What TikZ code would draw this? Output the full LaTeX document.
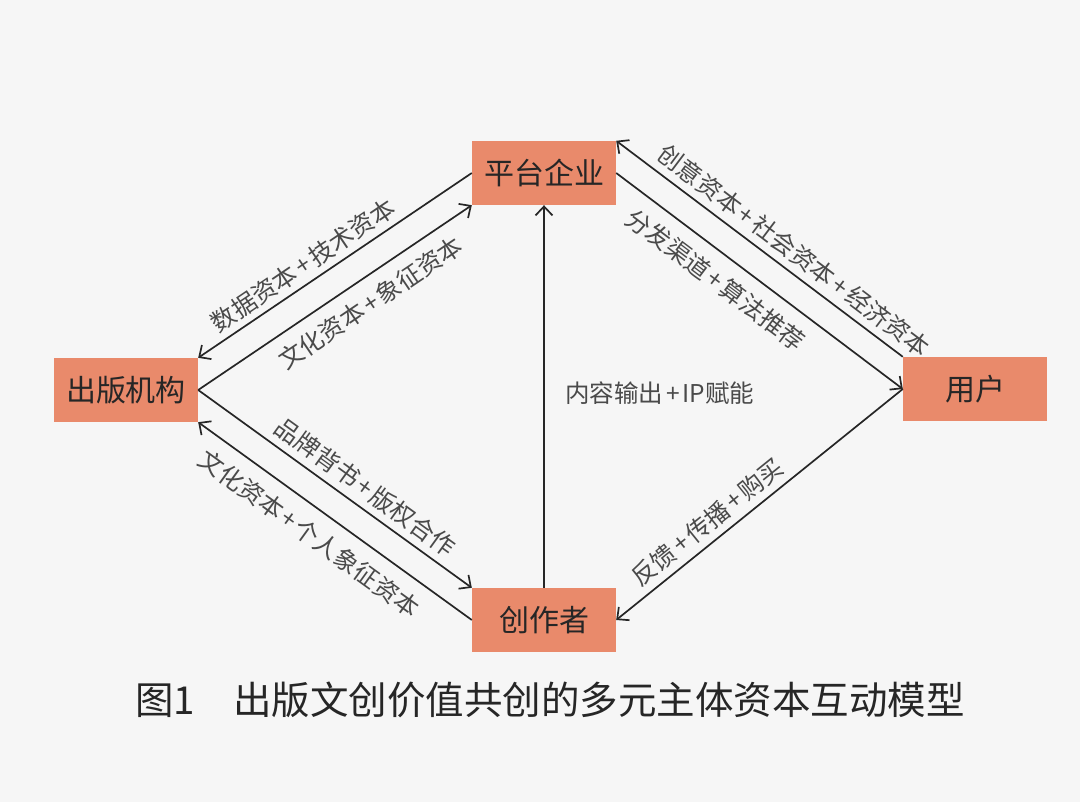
\documentclass[tikz,border=0pt]{standalone}
\usepackage{fontspec}
\setmainfont{Noto Sans CJK SC}
\usepackage{xcolor}
\usepackage{tikz}
\usetikzlibrary{arrows.meta, positioning, calc}
\definecolor{boxfill}{HTML}{E98A6B}
\definecolor{labgray}{HTML}{4A4A4A}
\definecolor{bggray}{HTML}{F6F6F6}
\newcommand{\pls}{\makebox[0.8em]{+}}
\tikzset{
    actor/.style={rectangle, fill=boxfill, minimum width=144pt, minimum height=64pt,
        inner sep=0pt, text=black!85, font=\fontsize{30}{32}\selectfont},
    flow/.style={line width=1.7pt, black!85, -{Straight Barb[length=9pt,width=17pt,line width=1.7pt]}},
    lab/.style={text=labgray, inner sep=0pt, font=\fontsize{24.5}{26}\selectfont}
}

\begin{document}
\begin{tikzpicture}[x=1pt, y=-1pt]
    % Page and background
    \useasboundingbox (0,0) rectangle (1080,802);
    \fill[bggray] (0,0) rectangle (1080,802);

    % Actors
    \node[actor] (plat) at (544,173) {平台企业};
    \node[actor] (pub) at (126,390) {出版机构};
    \node[actor] (user) at (975,389) {用户};
    \node[actor] (creator) at (544,620) {创作者};

    % Platform and publisher
    \draw[flow] (plat.west) -- node[lab, sloped, above=6pt, pos=0.58] {数据资本\pls 技术资本} (pub.north east);
    \draw[flow] (pub.east) -- node[lab, sloped, below=12pt, pos=0.58] {文化资本\pls 象征资本} (plat.south west);

    % Platform and user
    \draw[flow] (user.north west) -- node[lab, sloped, above=7pt, pos=0.42] {创意资本\pls 社会资本\pls 经济资本} (plat.north east);
    \draw[flow] (plat.east) -- node[lab, sloped, below=13pt, pos=0.4] {分发渠道\pls 算法推荐} (user.west);

    % Publisher and creator
    \draw[flow] (pub.east) -- node[lab, sloped, above=7pt, pos=0.57] {品牌背书\pls 版权合作} (creator.north west);
    \draw[flow] (creator.west) -- node[lab, sloped, below=13pt, pos=0.54] {文化资本\pls 个人象征资本} (pub.south east);

    % Creator, platform and user
    \draw[flow] (creator.north) -- (plat.south);
    \node[lab, anchor=west] (content) at (565,393) {内容输出\pls IP赋能};
    \draw[flow] (user.west) -- node[lab, sloped, above=7pt, pos=0.64] {反馈\pls 传播\pls 购买} (creator.east);

    % Caption
    \node[text=black!85, font=\fontsize{38.5}{42}\selectfont] (caption) at (550,700) {图1\hspace{38pt}出版文创价值共创的多元主体资本互动模型};
\end{tikzpicture}
\end{document}
